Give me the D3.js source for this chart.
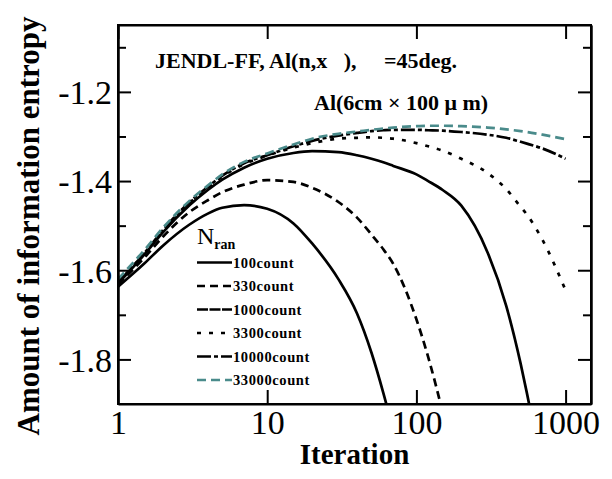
<!DOCTYPE html>
<html><head><meta charset="utf-8">
<script src="https://cdn.jsdelivr.net/npm/d3@7"></script>
<style>
body{margin:0;background:#fff;}
svg text{font-family:"Liberation Serif","Times New Roman",serif;white-space:pre;}
</style></head>
<body><svg id="c" width="612" height="479"></svg>
<script>
const iterations = [1,1.5,2,3,4,5,7,10,15,20,30,40,50,60,70,100,120,150,200,300,400,500,550,700,1000];
const s100   = [-1.637,-1.585,-1.545,-1.498,-1.473,-1.460,-1.454,-1.462,-1.495,-1.540,-1.620,-1.697,-1.785,-1.875,-1.960,null,null,null,null,null,null,null,null,null,null];
const s330   = [-1.632,-1.572,-1.525,-1.470,-1.443,-1.425,-1.408,-1.398,-1.402,-1.415,-1.447,-1.482,-1.520,-1.553,-1.586,-1.710,-1.795,-1.920,-2.12,null,null,null,null,null,null];
const s1000  = [-1.630,-1.565,-1.515,-1.455,-1.420,-1.397,-1.370,-1.350,-1.337,-1.333,-1.335,-1.342,-1.350,-1.358,-1.366,-1.385,-1.400,-1.420,-1.455,-1.560,-1.680,-1.810,-1.875,-2.060,null];
const s3300  = [-1.628,-1.563,-1.512,-1.450,-1.415,-1.390,-1.362,-1.343,-1.325,-1.315,-1.305,-1.303,-1.302,-1.303,-1.305,-1.315,-1.322,-1.332,-1.350,-1.382,-1.418,-1.458,-1.475,-1.532,-1.645];
const s10000 = [-1.627,-1.562,-1.510,-1.448,-1.413,-1.388,-1.360,-1.342,-1.322,-1.310,-1.298,-1.292,-1.288,-1.286,-1.285,-1.285,-1.286,-1.287,-1.290,-1.296,-1.303,-1.312,-1.316,-1.327,-1.350];
const s33000 = [-1.620,-1.555,-1.505,-1.445,-1.410,-1.385,-1.357,-1.338,-1.318,-1.305,-1.294,-1.289,-1.285,-1.282,-1.280,-1.277,-1.276,-1.276,-1.277,-1.280,-1.284,-1.288,-1.290,-1.296,-1.306];
const seriesNames = ["100count","330count","1000count","3300count","10000count","33000count"];
const seriesValues = [s100,s330,s1000,s3300,s10000,s33000];
const seriesColors = ["#000","#000","#000","#000","#000","#4a8b8b"];
const seriesDash = ["none","8,5","none","4,8","14,3,4,3","9,5"];
const legendDash = ["none","8,5","11,1.5","4,8","14,3,4,3","9,5"];
const xTicks = [1,10,100,1000];
const yMajor = [-1.2,-1.4,-1.6,-1.8];
const yMinor = [-1.1,-1.3,-1.5,-1.7];

const svg = d3.select("#c");
const L=118,T=25,R=591,B=404;
const x = d3.scaleLog().domain([1,1480]).range([L,R]);
const y = d3.scaleLinear().domain([-1.9,-1.05]).range([B,T]);

svg.append("clipPath").attr("id","clp").append("rect").attr("x",L).attr("y",T).attr("width",R-L).attr("height",B-T);

// curves
const line = d3.line().defined(d=>d[1]!==null).x(d=>x(d[0])).y(d=>y(d[1])).curve(d3.curveMonotoneX);
const g = svg.append("g").attr("clip-path","url(#clp)");
seriesValues.forEach((vals,i)=>{
  g.append("path").datum(iterations.map((t,j)=>[t,vals[j]]))
   .attr("d",line).attr("fill","none").attr("stroke",seriesColors[i])
   .attr("stroke-width",2.7).attr("stroke-dasharray",seriesDash[i]);
});

// axes
const fmtY = d=>d.toFixed(1).replace("\u2212","-");
const axB = svg.append("g").attr("transform",`translate(0,${B})`)
  .call(d3.axisBottom(x).tickValues(xTicks).tickFormat(d=>String(d)).tickSizeInner(-14).tickSizeOuter(0));
const axT = svg.append("g").attr("transform",`translate(0,${T})`)
  .call(d3.axisTop(x).tickValues(xTicks).tickFormat("").tickSizeInner(-14).tickSizeOuter(0));
const axL = svg.append("g").attr("transform",`translate(${L},0)`)
  .call(d3.axisLeft(y).tickValues(yMajor).tickFormat(fmtY).tickSizeInner(-13).tickSizeOuter(0).tickPadding(6));
const axLm = svg.append("g").attr("transform",`translate(${L},0)`)
  .call(d3.axisLeft(y).tickValues(yMinor).tickFormat("").tickSizeInner(-8).tickSizeOuter(0));
const axR = svg.append("g").attr("transform",`translate(${R},0)`)
  .call(d3.axisRight(y).tickValues(yMajor).tickFormat("").tickSizeInner(-13).tickSizeOuter(0));
const axRm = svg.append("g").attr("transform",`translate(${R},0)`)
  .call(d3.axisRight(y).tickValues(yMinor).tickFormat("").tickSizeInner(-8).tickSizeOuter(0));
[axB,axT,axL,axLm,axR,axRm].forEach(a=>{
  a.selectAll("path,line").attr("stroke","#000").attr("stroke-width",2);
  a.selectAll("text").attr("fill","#000").style("font-size","34px")
   .style("font-family",'"Liberation Serif",serif');
});
axL.selectAll("text").attr("dy","0.35em");
axB.selectAll("text").attr("y",30).attr("dy",0);
svg.append("rect").attr("x",L).attr("y",T).attr("width",R-L).attr("height",B-T)
  .attr("fill","none").attr("stroke","#000").attr("stroke-width",2);

// titles
svg.append("text").attr("x",(L+R)/2).attr("y",464).attr("text-anchor","middle")
  .style("font-size","29px").style("font-weight","bold").text("Iteration");
svg.append("text").attr("transform","translate(39,226) rotate(-90)").attr("text-anchor","middle")
  .style("font-size","31px").style("font-weight","bold").text("Amount of information entropy");

// annotations
svg.append("text").attr("x",155).attr("y",68).style("font-size","22px").style("font-weight","bold")
  .text("JENDL-FF, Al(n,x   ),     =45deg.");
svg.append("text").attr("x",314).attr("y",110).style("font-size","22px").style("font-weight","bold")
  .text("Al(6cm \u00d7 100 \u03bc m)");

// legend
const lg = svg.append("g");
const nt = lg.append("text").attr("x",197).attr("y",244);
nt.append("tspan").style("font-size","24px").text("N");
nt.append("tspan").attr("dy",5).style("font-size","14px").style("font-weight","bold").text("ran");
seriesNames.forEach((n,i)=>{
  const yy = 262.5 + i*23.5;
  lg.append("line").attr("x1",197).attr("x2",232).attr("y1",yy).attr("y2",yy)
    .attr("stroke",seriesColors[i]).attr("stroke-width",2.7).attr("stroke-dasharray",legendDash[i]);
  lg.append("text").attr("x",233).attr("y",yy+5).style("font-size","14.5px").style("font-weight","bold")
    .style("letter-spacing","0.6px").text(n);
});
</script></body></html>
